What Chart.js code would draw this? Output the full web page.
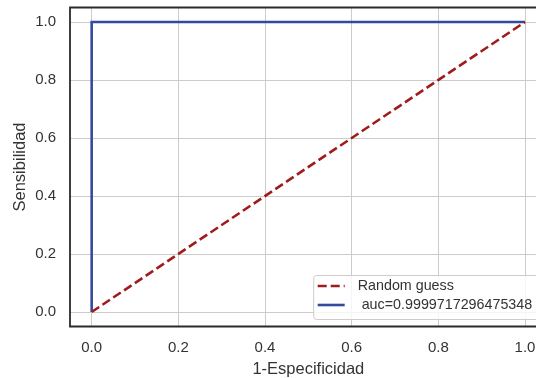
<!DOCTYPE html>
<html>
<head>
<meta charset="utf-8">
<script src="https://cdn.jsdelivr.net/npm/chart.js@4.4.1/dist/chart.umd.min.js"></script>
<style>
  html, body { margin: 0; padding: 0; background: #ffffff; overflow: hidden; }
  #wrap { position: relative; width: 560px; height: 378px; }
</style>
</head>
<body>
<div id="wrap"><canvas id="roc" width="560" height="378"></canvas></div>
<script>
// ROC curve (false positive rate vs. true positive rate)
const fprValues = [0, 0, 1];
const tprValues = [0, 1, 1];
// Diagonal reference line for a random classifier
const guessX = [0, 1];
const guessY = [0, 1];
// Axis ticks and labels
const xTicks = [0, 0.2, 0.4, 0.6, 0.8, 1.0];
const yTicks = [0, 0.2, 0.4, 0.6, 0.8, 1.0];
const seriesLabels = ['Random guess', ' auc=0.9999717296475348'];
const xTitle = '1-Especificidad';
const yTitle = 'Sensibilidad';

const FONT = "'Liberation Sans', Arial, sans-serif";
const TEXT = '#333333';

const toPoints = (xs, ys) => xs.map((x, i) => ({ x: x, y: ys[i] }));

// Frame (spines) around the plotting area
const spinePlugin = {
  id: 'spines',
  afterDatasetsDraw(chart) {
    const { ctx, chartArea: a } = chart;
    ctx.save();
    ctx.strokeStyle = '#2b2b2b';
    ctx.lineWidth = 1.8;
    ctx.beginPath();
    ctx.rect(a.left, a.top, a.right - a.left, a.bottom - a.top);
    ctx.stroke();
    ctx.restore();
  }
};

// Legend box in the lower right corner of the plotting area
const cornerLegend = {
  id: 'cornerLegend',
  afterDraw(chart) {
    const { ctx, chartArea: a } = chart;
    const w = 226, h = 44, pad = 7;
    const x0 = a.right - pad - w, y0 = a.bottom - pad - h;
    ctx.save();
    ctx.beginPath();
    ctx.roundRect(x0, y0, w, h, 3);
    ctx.fillStyle = 'rgba(255,255,255,0.8)';
    ctx.fill();
    ctx.strokeStyle = '#cccccc';
    ctx.lineWidth = 1;
    ctx.stroke();
    ctx.font = '14.3px ' + FONT;
    ctx.textBaseline = 'middle';
    ctx.fillStyle = TEXT;
    chart.data.datasets.forEach((ds, i) => {
      const ry = y0 + 10.5 + i * 19;
      ctx.beginPath();
      ctx.setLineDash(ds.borderDash || []);
      ctx.strokeStyle = ds.borderColor;
      ctx.lineWidth = ds.borderWidth;
      ctx.moveTo(x0 + 4, ry);
      ctx.lineTo(x0 + 31, ry);
      ctx.stroke();
      ctx.setLineDash([]);
      ctx.fillText(ds.label, x0 + 44, ry);
    });
    ctx.restore();
  }
};

// Keep the plotting area where the layout padding puts it
const noLabelPadding = s => {
  s.paddingTop = 0; s.paddingBottom = 0; s.paddingLeft = 0; s.paddingRight = 0;
};

new Chart(document.getElementById('roc'), {
  type: 'scatter',
  data: {
    datasets: [
      {
        label: seriesLabels[0],
        data: toPoints(guessX, guessY),
        showLine: true,
        borderColor: '#a11b1b',
        borderWidth: 2.6,
        borderDash: [9, 4],
        pointRadius: 0,
        fill: false
      },
      {
        label: seriesLabels[1],
        data: toPoints(fprValues, tprValues),
        showLine: true,
        borderColor: '#334a9d',
        borderWidth: 2.6,
        pointRadius: 0,
        fill: false
      }
    ]
  },
  options: {
    responsive: false,
    animation: false,
    events: [],
    layout: { padding: { top: 7.5, right: 13.3, left: 0, bottom: 0 } },
    plugins: { legend: { display: false }, tooltip: { enabled: false } },
    scales: {
      x: {
        type: 'linear',
        min: -0.05,
        max: 1.05,
        afterBuildTicks: s => { s.ticks = xTicks.map(v => ({ value: v })); },
        afterFit: s => { s.height = 51.5; noLabelPadding(s); },
        grid: { color: '#cccccc', lineWidth: 1, drawTicks: false },
        border: { display: false },
        ticks: {
          padding: 12,
          color: TEXT,
          font: { family: FONT, size: 15 },
          maxRotation: 0,
          callback: v => v.toFixed(1)
        },
        title: {
          display: true,
          text: xTitle,
          color: TEXT,
          font: { family: FONT, size: 16.5, lineHeight: 1 },
          padding: { top: 0, bottom: 0 }
        }
      },
      y: {
        type: 'linear',
        min: -0.05,
        max: 1.05,
        afterBuildTicks: s => { s.ticks = yTicks.map(v => ({ value: v })); },
        afterFit: s => { s.width = 70; noLabelPadding(s); },
        grid: { color: '#cccccc', lineWidth: 1, drawTicks: false },
        border: { display: false },
        ticks: {
          padding: 14,
          color: TEXT,
          font: { family: FONT, size: 15 },
          callback: v => v.toFixed(1)
        },
        title: {
          display: true,
          text: yTitle,
          color: TEXT,
          font: { family: FONT, size: 16.5, lineHeight: 1 },
          padding: { top: 11.75, bottom: 0 }
        }
      }
    }
  },
  plugins: [spinePlugin, cornerLegend]
});
</script>
</body>
</html>
